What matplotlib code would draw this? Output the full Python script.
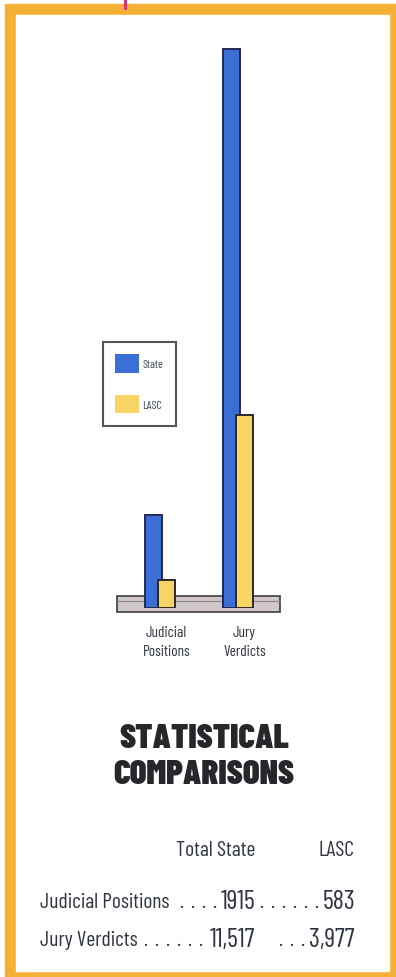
import matplotlib.pyplot as plt
import matplotlib.patches as mpatches

# data
categories = ['Judicial\nPositions', 'Jury\nVerdicts']
state = [1915, 11517]
lasc = [583, 3977]
row_names = ['Judicial Positions', 'Jury Verdicts']
state_text = ['1915', '11,517']
lasc_text = ['583', '3,977']
series_names = ['State', 'LASC']

W, H = 396, 978
blue = '#3b6fd6'
yellow = '#f7d463'
orange = '#f4b136'
ink = '#2f3442'
narrow = ['Barlow Condensed', 'DejaVu Sans']

fig = plt.figure(figsize=(W / 100, H / 100), dpi=100)

# background layer in pixel coords (frame, ground plate, texts)
bg = fig.add_axes([0, 0, 1, 1])
bg.set_xlim(0, W)
bg.set_ylim(H, 0)
bg.axis('off')
bg.add_patch(mpatches.Rectangle((5, 5), W - 5, H - 5, color=orange, zorder=0))
bg.add_patch(mpatches.Rectangle((16, 16), 373, 956, color='white', zorder=1))
bg.plot([125, 125], [0, 9], color='#e0247c', lw=2, zorder=2)
# ground plate
bg.add_patch(mpatches.Rectangle((117, 597), 163, 16, facecolor='#cfc7c8',
                                edgecolor='#4a4a4a', lw=1.3, zorder=2))
bg.plot([117, 280], [602, 602], color='#8a8486', lw=0.8, zorder=2)

# title
bg.text(204, 739, 'STATISTICAL', ha='center', va='center', fontsize=25,
        family=narrow, fontweight=900, color='#26272b', zorder=3)
bg.text(204, 775, 'COMPARISONS', ha='center', va='center', fontsize=25,
        family=narrow, fontweight=900, color='#26272b', zorder=3)

# table
tkw = dict(family=narrow, color=ink, va='center', fontsize=15.5, zorder=3)
nkw = dict(tkw, fontsize=19)
bg.text(216, 851, 'Total State', ha='center', **tkw)
bg.text(355, 851, 'LASC', ha='right', **tkw)
row_y = [902, 940]
# leader dots: (last dot x, count) before each number
dots_a = [(214, 4), (200, 6)]
dots_b = [(316, 6), (302, 3)]
pitch = 11
for i in range(2):
    bg.text(40, row_y[i], row_names[i], ha='left', **tkw)
    bg.text(255, row_y[i], state_text[i], ha='right', **nkw)
    bg.text(355, row_y[i], lasc_text[i], ha='right', **nkw)
    for end, n in (dots_a[i], dots_b[i]):
        for k in range(n):
            bg.text(end - k * pitch, row_y[i], '.', ha='center', **tkw)

# bar chart
left, right, bottom, top = 117, 280, 609, 40
ax = fig.add_axes([left / W, (H - bottom) / H, (right - left) / W, (bottom - top) / H])
ax.patch.set_alpha(0)
unit = 78.0
ax.set_xlim(-(160 - left) / unit, (right - 160) / unit)
ax.set_ylim(0, max(state) * (bottom - top) / (bottom - 50))
x = range(len(categories))
w = 17 / unit
off = 6.5 / unit
ax.bar([i - off for i in x], state, width=w, color=blue, edgecolor='#252a55', lw=1.4, zorder=2)
ax.bar([i + off for i in x], lasc, width=w, color=yellow, edgecolor='#2a2a2a', lw=1.4, zorder=3)
for s in ax.spines.values():
    s.set_visible(False)
ax.set_yticks([])
ax.set_xticks([i + off for i in x], categories)
ax.tick_params(axis='x', length=0, pad=12)
for lab in ax.get_xticklabels():
    lab.set_family(narrow)
    lab.set_fontsize(11)
    lab.set_color(ink)
    lab.set_linespacing(1.45)

handles = [mpatches.Patch(facecolor=blue), mpatches.Patch(facecolor=yellow)]
leg = fig.legend(handles, series_names, loc='upper left',
                 bbox_to_anchor=(103 / W, 1 - 343 / H), borderaxespad=0,
                 fancybox=False, edgecolor='#555555', framealpha=1,
                 prop={'family': narrow, 'size': 8.5}, handlelength=2.0,
                 handleheight=2.0, labelspacing=1.9, handletextpad=0.3,
                 borderpad=1.05)
leg.get_frame().set_linewidth(1.5)
for t in leg.get_texts():
    t.set_color('#3a4a55')

fig.savefig('out.png', dpi=100)
